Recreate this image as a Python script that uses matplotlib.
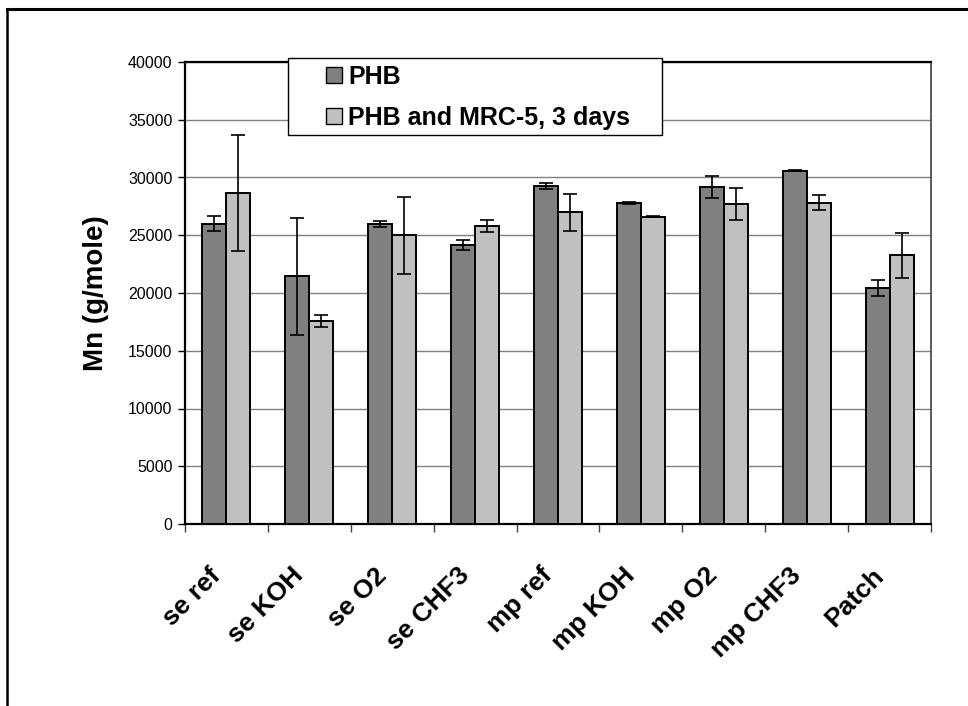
import numpy as np
import matplotlib.pyplot as plt
from matplotlib.lines import Line2D
from matplotlib.patches import Patch, Rectangle

plt.rcParams['font.family'] = ['Liberation Sans', 'DejaVu Sans']

# Mn per sample, mean and error
samples = ['se ref', 'se KOH', 'se O2', 'se CHF3', 'mp ref', 'mp KOH',
           'mp O2', 'mp CHF3', 'Patch']
phb = [26000, 21450, 26000, 24150, 29300, 27800, 29200, 30600, 20400]
phb_err = [650, 5050, 250, 430, 260, 100, 950, 50, 700]
phb_mrc5 = [28650, 17600, 25000, 25800, 27000, 26600, 27700, 27800, 23250]
phb_mrc5_err = [5000, 520, 3350, 500, 1600, 50, 1350, 650, 1950]
y_ticks = [0, 5000, 10000, 15000, 20000, 25000, 30000, 35000, 40000]

dark, light = '#808080', '#c0c0c0'

W, H = 968, 706
fig = plt.figure(figsize=(W / 100, H / 100), dpi=100)
ax = fig.add_axes([185 / W, 1 - 524 / H, (931 - 185) / W, (524 - 62) / H])

x = np.arange(len(samples))
bw = 0.29
ax.bar(x - bw / 2, phb, bw, color=dark, edgecolor='black', linewidth=1.4, zorder=3)
ax.bar(x + bw / 2, phb_mrc5, bw, color=light, edgecolor='black', linewidth=1.4, zorder=3)
ax.errorbar(x - bw / 2, phb, yerr=phb_err, fmt='none', ecolor='black',
            elinewidth=1.2, capsize=4.7, capthick=1.2, zorder=4)
ax.errorbar(x + bw / 2, phb_mrc5, yerr=phb_mrc5_err, fmt='none', ecolor='black',
            elinewidth=1.2, capsize=4.7, capthick=1.2, zorder=4)

ax.set_xlim(-0.5, len(samples) - 0.5)
ax.set_ylim(0, 40000)
ax.set_yticks(y_ticks)
ax.set_yticklabels([str(v) for v in y_ticks], fontsize=11.5)
ax.yaxis.grid(True, color='#808080', linewidth=1.0, zorder=0)
ax.tick_params(axis='y', direction='out', length=5, width=1, pad=4)

# category separators as x ticks, names rotated underneath
ax.set_xticks(np.arange(len(samples) + 1) - 0.5)
ax.set_xticklabels([])
ax.tick_params(axis='x', direction='out', length=6, width=1, color='#404040')
for xi, name in zip(x, samples):
    ax.text(xi - 0.22, -3400, name, rotation=45, rotation_mode='anchor',
            ha='right', va='top', fontsize=19, fontweight='bold')

for side in ['left', 'bottom', 'top']:
    ax.spines[side].set_linewidth(1.6)
ax.spines['right'].set_linewidth(1.2)
ax.spines['right'].set_color('#404040')

ax.set_ylabel('Mn (g/mole)', fontsize=20, fontweight='bold', labelpad=14)

# legend box overlapping the top of the plot area
fig.add_artist(Rectangle((288 / W, 1 - 135 / H), (662 - 288) / W, (135 - 58) / H,
                         transform=fig.transFigure, facecolor='white',
                         edgecolor='black', linewidth=1.0, zorder=4))
handles = [Patch(facecolor=dark, edgecolor='black', linewidth=1.0),
           Patch(facecolor=light, edgecolor='black', linewidth=1.0)]
leg = fig.legend(handles, ['PHB', 'PHB and MRC-5, 3 days'], loc='upper left',
                 bbox_to_anchor=(326 / W, 1 - 65 / H),
                 prop={'weight': 'bold', 'size': 18}, frameon=False,
                 handlelength=0.64, handleheight=0.64, handletextpad=0.24,
                 borderpad=0, labelspacing=0.68, borderaxespad=0)
leg.set_zorder(5)

# outer chart border (top and left edges visible)
fig.add_artist(Line2D([7 / W, 1], [1 - 9 / H, 1 - 9 / H], color='black', linewidth=2.2))
fig.add_artist(Line2D([7 / W, 7 / W], [0, 1 - 9 / H], color='black', linewidth=1.8))

fig.savefig('out.png', dpi=100)
